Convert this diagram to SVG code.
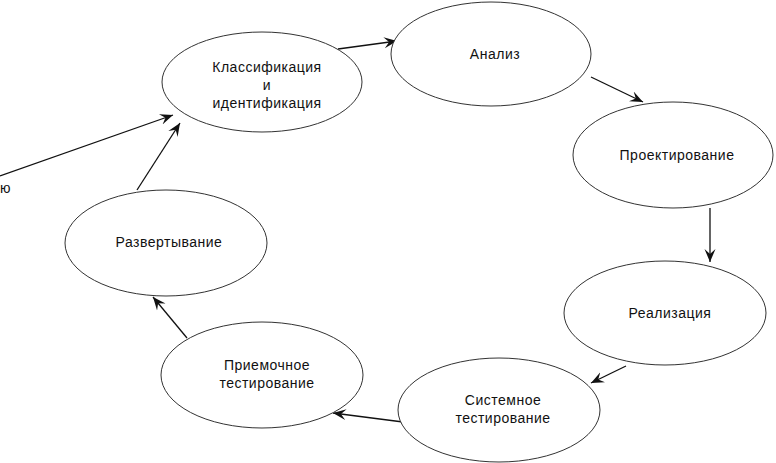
<svg xmlns="http://www.w3.org/2000/svg" width="776" height="463" viewBox="0 0 776 463">
<style>
.n ellipse{fill:#fff;stroke:#333;stroke-width:1}
text{font-family:"Liberation Sans",Arial,sans-serif;font-size:14px;fill:#111;text-anchor:middle;letter-spacing:0.5px}
.c line{stroke:#111;stroke-width:1.3;marker-end:url(#a)}
</style>
<defs>
<marker id="a" viewBox="-13 -6 14 12" refX="0" refY="0" markerWidth="14" markerHeight="12" markerUnits="userSpaceOnUse" orient="auto">
<path d="M0,0 L-13,-5.5 L-8,0 L-13,5.5 Z" fill="#111"/>
</marker>
</defs>
<rect width="776" height="463" fill="#fff"/>
<g class="c">
<line x1="338" y1="49" x2="397" y2="41"/>
<line x1="591" y1="77" x2="643" y2="102"/>
<line x1="710" y1="208" x2="710" y2="262"/>
<line x1="626" y1="366" x2="591" y2="383"/>
<line x1="403" y1="422" x2="333" y2="413"/>
<line x1="187" y1="338" x2="153" y2="297"/>
<line x1="137" y1="190" x2="180" y2="123"/>
<line x1="0" y1="176" x2="173" y2="115"/>
</g>
<g id="n1" class="n"><ellipse cx="262" cy="82" rx="100" ry="50"/>
<text x="267" y="72">Классификация</text><text x="267" y="90">и</text><text x="267" y="108">идентификация</text></g>
<g id="n2" class="n"><ellipse cx="491" cy="54" rx="100" ry="52"/><text x="495" y="59">Анализ</text></g>
<g id="n3" class="n"><ellipse cx="673" cy="155" rx="100" ry="53"/><text x="677" y="160">Проектирование</text></g>
<g id="n4" class="n"><ellipse cx="665" cy="313" rx="101" ry="52"/><text x="670" y="318">Реализация</text></g>
<g id="n5" class="n"><ellipse cx="499" cy="410" rx="101" ry="52"/><text x="503" y="405">Системное</text><text x="503" y="423">тестирование</text></g>
<g id="n6" class="n"><ellipse cx="262" cy="375" rx="101" ry="53"/><text x="267" y="370">Приемочное</text><text x="267" y="388">тестирование</text></g>
<g id="n7" class="n"><ellipse cx="166" cy="243" rx="101" ry="53"/><text x="169" y="247">Развертывание</text></g>
<text x="0" y="193" style="text-anchor:start">ю</text>
</svg>
